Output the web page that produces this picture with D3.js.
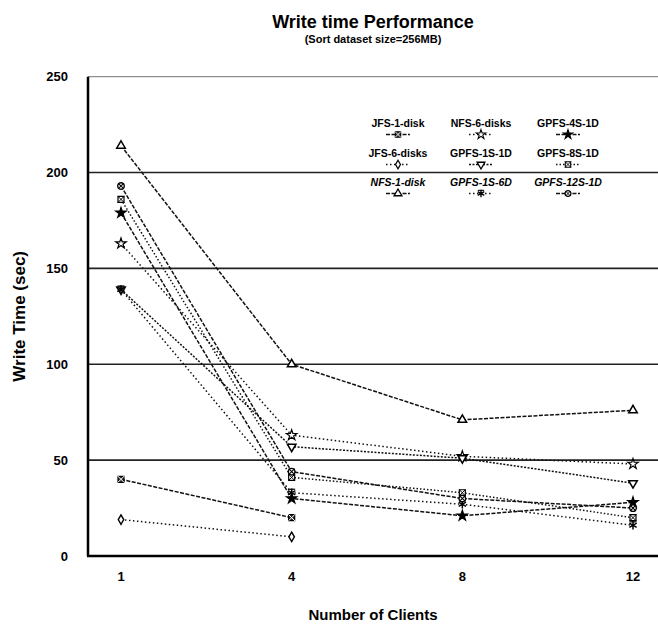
<!DOCTYPE html>
<html>
<head>
<meta charset="utf-8">
<script src="https://cdn.jsdelivr.net/npm/d3@7"></script>
<style>
  body { margin: 0; background: #fff; }
  svg text { font-family: "Liberation Sans", Arial, sans-serif; fill: #000; }
</style>
</head>
<body>
<div id="chart"></div>
<script>
// Write time Performance - sort dataset 256MB

// data
var clients = ["1", "4", "8", "12"];
var seriesNames = ["JFS-1-disk", "NFS-6-disks", "GPFS-4S-1D",
                   "JFS-6-disks", "GPFS-1S-1D", "GPFS-8S-1D",
                   "NFS-1-disk", "GPFS-1S-6D", "GPFS-12S-1D"];
var jfs1 = [40, 20, null, null];
var nfs6 = [163, 63, 52, 48];
var gpfs4s1d = [179, 30, 21, 28];
var jfs6 = [19, 10, null, null];
var gpfs1s1d = [139, 57, 51, 38];
var gpfs8s1d = [186, 41, 33, 20];
var nfs1 = [214, 100, 71, 76];
var gpfs1s6d = [139, 33, 27, 16];
var gpfs12s1d = [193, 44, 30, 25];
var seriesValues = [jfs1, nfs6, gpfs4s1d, jfs6, gpfs1s1d, gpfs8s1d, nfs1, gpfs1s6d, gpfs12s1d];
var yTicks = [0, 50, 100, 150, 200, 250];

// styles per series (same order as seriesNames)
var markers = ["boxX", "star", "starFill", "diamond", "triDown", "boxXLight", "triUp", "asterisk", "circleX"];
var dashes  = ["4,1.5", "1.5,2.5", "4,1.5", "1.5,2.5", "2,1.5", "1.5,2", "4,1.5", "1.5,2.5", "4,1.5"];
var italic  = [false, false, false, false, false, false, true, true, true];

var width = 658;
var height = 631;
var plotLeft = 88, plotRight = 658, plotTop = 76.7, plotBottom = 556;

var svg = d3.select("#chart").append("svg")
            .attr("width", width)
            .attr("height", height);

var x = d3.scalePoint().domain(clients).range([121, 633]);
var y = d3.scaleLinear().domain([0, 250]).range([plotBottom, plotTop]);

// grid lines
svg.selectAll(".grid")
   .data(yTicks.filter(function(d) { return d > 0; }))
   .enter().append("line")
   .attr("x1", plotLeft).attr("x2", plotRight)
   .attr("y1", function(d) { return y(d); })
   .attr("y2", function(d) { return y(d); })
   .attr("stroke", function(d) { return d == 250 ? "#777" : "#222"; })
   .attr("stroke-width", function(d) { return d == 250 ? 1 : 1.6; });

// axes
svg.append("line").attr("x1", plotLeft).attr("x2", plotLeft).attr("y1", plotTop).attr("y2", plotBottom)
   .attr("stroke", "#000").attr("stroke-width", 2.5);
svg.append("line").attr("x1", plotLeft - 1).attr("x2", plotRight).attr("y1", plotBottom).attr("y2", plotBottom)
   .attr("stroke", "#000").attr("stroke-width", 2.5);

// y tick labels
svg.selectAll(".ylab")
   .data(yTicks)
   .enter().append("text")
   .attr("x", 68)
   .attr("y", function(d) { return y(d) + 4.5; })
   .attr("text-anchor", "end")
   .attr("font-size", 13).attr("font-weight", "bold")
   .text(function(d) { return d; });

// x tick labels
svg.selectAll(".xlab")
   .data(clients)
   .enter().append("text")
   .attr("x", function(d) { return x(d); })
   .attr("y", 581)
   .attr("text-anchor", "middle")
   .attr("font-size", 13).attr("font-weight", "bold")
   .text(function(d) { return d; });

// titles
svg.append("text").attr("x", 373).attr("y", 28).attr("text-anchor", "middle")
   .attr("font-size", 18).attr("font-weight", "bold").text("Write time Performance");
svg.append("text").attr("x", 373).attr("y", 43).attr("text-anchor", "middle")
   .attr("font-size", 11).attr("font-weight", "bold").text("(Sort dataset size=256MB)");
svg.append("text").attr("x", 373).attr("y", 620).attr("text-anchor", "middle")
   .attr("font-size", 15).attr("font-weight", "bold").text("Number of Clients");
svg.append("text").attr("transform", "translate(25," + (plotTop + plotBottom) / 2 + ") rotate(-90)")
   .attr("text-anchor", "middle")
   .attr("font-size", 17).attr("font-weight", "bold").text("Write Time (sec)");

// marker drawing
function drawMarker(g, type, cx, cy, k) {
    k = k || 1;
    var m = g.append("g").attr("transform", "translate(" + cx + "," + cy + ") scale(" + k + ")");
    var sw = 1.2;
    if (type == "boxX" || type == "boxXLight") {
        m.append("path").attr("d", d3.symbol(d3.symbolSquare, 36)())
         .attr("fill", type == "boxX" ? "#333" : "#fff").attr("stroke", "#000").attr("stroke-width", sw);
        m.append("path").attr("d", d3.symbol(d3.symbolTimes, 30)())
         .attr("fill", "none").attr("stroke", type == "boxX" ? "#fff" : "#000").attr("stroke-width", 1);
    } else if (type == "star" || type == "starFill") {
        m.append("path").attr("d", d3.symbol(d3.symbolStar, 34)())
         .attr("fill", type == "starFill" ? "#000" : "#fff").attr("stroke", "#000").attr("stroke-width", sw);
    } else if (type == "diamond") {
        m.append("path").attr("d", d3.symbol(d3.symbolDiamond, 26)())
         .attr("fill", "#fff").attr("stroke", "#000").attr("stroke-width", sw + 0.2);
    } else if (type == "triUp" || type == "triDown") {
        m.append("path").attr("d", d3.symbol(d3.symbolTriangle, 32)())
         .attr("transform", type == "triDown" ? "rotate(180)" : null)
         .attr("fill", "#fff").attr("stroke", "#000").attr("stroke-width", sw + 0.3);
    } else if (type == "asterisk") {
        m.append("path").attr("d", d3.symbol(d3.symbolAsterisk, 50)())
         .attr("fill", "none").attr("stroke", "#000").attr("stroke-width", 1.5);
        m.append("line").attr("x1", -3.5).attr("x2", 3.5).attr("y1", -3.5).attr("y2", -3.5)
         .attr("stroke", "#000").attr("stroke-width", 1.2);
    } else if (type == "circleX") {
        m.append("path").attr("d", d3.symbol(d3.symbolCircle, 34)())
         .attr("fill", "#fff").attr("stroke", "#000").attr("stroke-width", sw + 0.2);
        m.append("path").attr("d", d3.symbol(d3.symbolTimes, 24)())
         .attr("fill", "none").attr("stroke", "#000").attr("stroke-width", 1.1);
    }
}

// series lines
var line = d3.line()
             .defined(function(d) { return d.v != null; })
             .x(function(d) { return x(d.c); })
             .y(function(d) { return y(d.v); });

var plot = svg.append("g");
seriesValues.forEach(function(vals, i) {
    var pts = clients.map(function(c, j) { return { c: c, v: vals[j] }; });
    plot.append("path")
        .datum(pts)
        .attr("d", line)
        .attr("fill", "none")
        .attr("stroke", "#111")
        .attr("stroke-width", 1.5)
        .attr("stroke-dasharray", dashes[i]);
});
seriesValues.forEach(function(vals, i) {
    vals.forEach(function(v, j) {
        if (v != null) drawMarker(plot, markers[i], x(clients[j]), y(v));
    });
});

// legend (3 x 3)
var legCols = [398, 481, 568];
var legRows = [126.5, 156.5, 185.5];
var legend = svg.append("g");
seriesNames.forEach(function(name, i) {
    var cx = legCols[i % 3];
    var ry = legRows[Math.floor(i / 3)];
    legend.append("text")
          .attr("x", cx).attr("y", ry)
          .attr("text-anchor", "middle")
          .attr("font-size", 10.5).attr("font-weight", "bold")
          .attr("font-style", italic[i] ? "italic" : "normal")
          .text(name);
    legend.append("line")
          .attr("x1", cx - 12).attr("x2", cx + 12)
          .attr("y1", ry + 8).attr("y2", ry + 8)
          .attr("stroke", "#111").attr("stroke-width", 1.3)
          .attr("stroke-dasharray", dashes[i]);
    drawMarker(legend, markers[i], cx, ry + 8, 0.9);
});
</script>
</body>
</html>
